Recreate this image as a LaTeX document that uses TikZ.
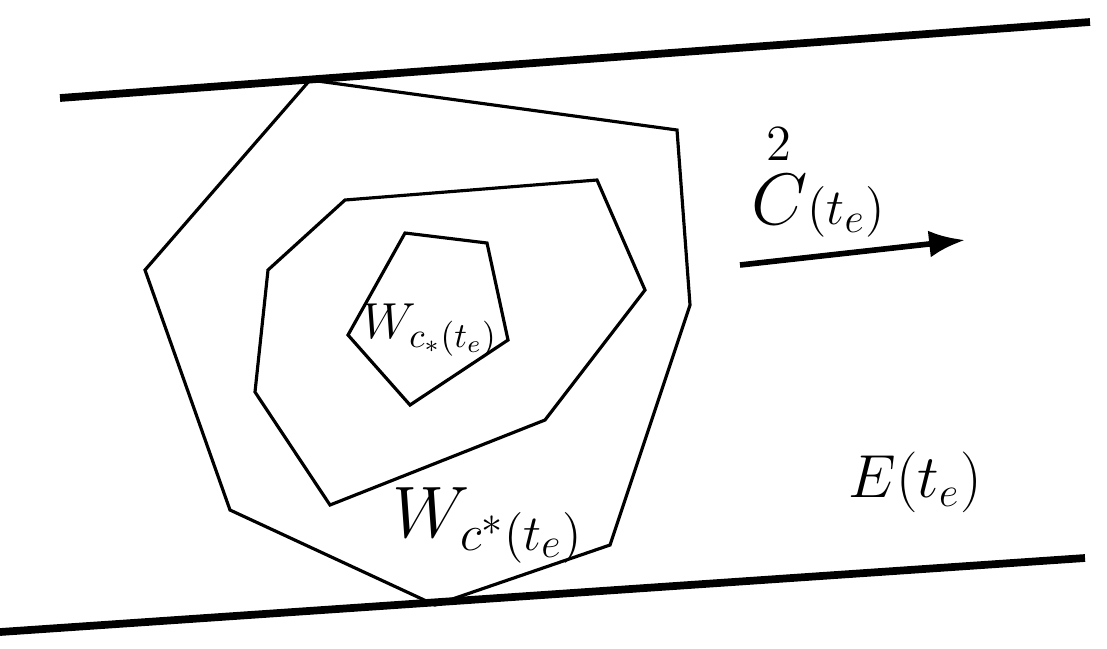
\documentclass[tikz,border=0pt]{standalone}
\usepackage{amsmath,amssymb}
\usepackage{tikz}
\usetikzlibrary{arrows.meta,positioning}

\begin{document}
\begin{tikzpicture}[x=0.01cm,y=-0.01cm,>=Latex,every node/.style={font=\huge},
  wall/.style={line width=2.2pt},
  hull/.style={line width=0.9pt,line join=miter}]
\useasboundingbox (0,0) rectangle (1107,648);
% strip boundaries
\coordinate (tl) at (60,98);
\coordinate (tr) at (1090,22);
\coordinate (bl) at (0,632);
\coordinate (br) at (1085,558);
\draw[wall] (tl)--(tr);
\draw[wall] (bl)--(br);
% outer set
\draw[hull] (310,80)--(677,130)--(690,305)--(610,545)--(435,605)--(230,510)--(145,270)--cycle;
% middle set
\draw[hull] (345,200)--(597,180)--(645,290)--(545,420)--(330,505)--(255,392)--(268,270)--cycle;
% inner set
\draw[hull] (405,233)--(487,243)--(508,340)--(410,405)--(348,335)--cycle;
% velocity arrow
\coordinate (a0) at (740,265);
\coordinate (a1) at (965,240);
\draw[->,line width=1.6pt] (a0)--(a1);
\node[font=\Large] (inner) at (430,330) {$W_{c_*(t_e)}$};
\node (outer) at (488,525) {$W_{c^*(t_e)}$};
\node[anchor=south] (vel) at (818,250) {$\overset{2}{C}{\scriptstyle(t_e)}$};
\node[font=\LARGE] (env) at (915,482) {$E(t_e)$};
\end{tikzpicture}
\end{document}
